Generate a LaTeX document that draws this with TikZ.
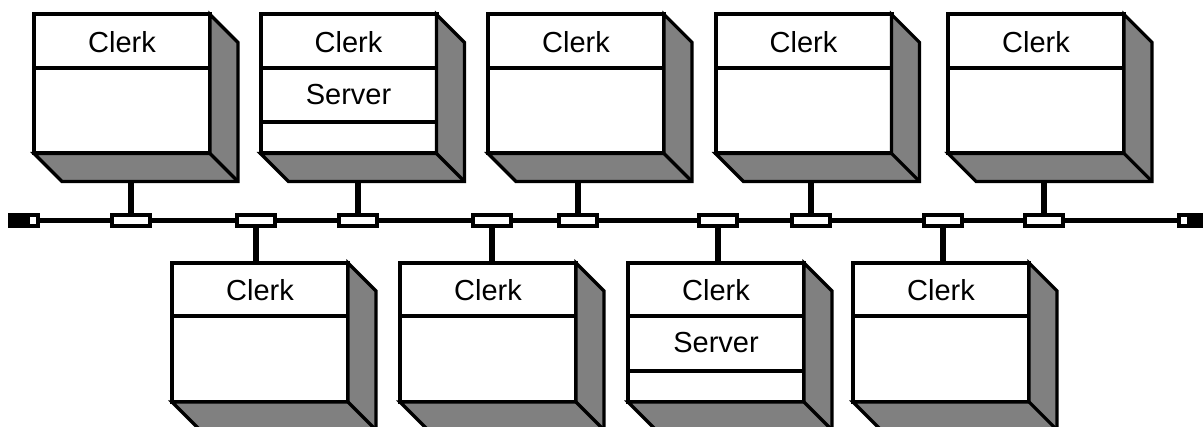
\documentclass[tikz,border=0pt]{standalone}
\usepackage{fontspec}
\setmainfont{Liberation Sans}
\begin{document}
\begin{tikzpicture}[x=0.75pt,y=-0.75pt,
    front/.style={draw,fill=white,line width=3pt,minimum width=132pt,minimum height=104.25pt,inner sep=0pt,outer sep=0pt},
    side/.style={draw,fill=gray,line width=2.4pt,line join=miter},
    divider/.style={line width=3pt},
    lbl/.style={font=\fontsize{21.75}{26}\selectfont,inner sep=0pt},
    tap/.style={draw,fill=white,line width=3pt,minimum width=28.5pt,minimum height=8.25pt,inner sep=0pt,outer sep=0pt},
    term/.style={tap,minimum width=7.5pt},
    termend/.style={tap,fill=black,minimum width=11.25pt},
    bus/.style={line width=4.25pt},
    wire/.style={line width=4.25pt}]
  \useasboundingbox (0,0) rectangle (1203,427);
  % terminators and bus
  \node[termend] (lend) at (17,220.5) {};
  \node[term] (lterm) at (32.5,220.5) {};
  \node[termend] (rend) at (1198,220.5) {};
  \node[term] (rterm) at (1183.5,220.5) {};
  \draw[bus] (lterm) -- (rterm);
  % upper row
  \foreach \i/\bx/\tx/\srv in {1/122/131/0, 2/348.5/358/1, 3/576/578/0, 4/803.5/811/0, 5/1036/1044/0}{
    \node[front] (up\i) at (\bx,84) {};
    \draw[side] (up\i.north east) -- ++(28,28) -- ++(0,139) -- ++(-176,0) -- (up\i.south west) -- (up\i.south east) -- cycle;
    \draw[side] (up\i.south east) -- ++(28,28);
    \coordinate (upfoot\i) at ([yshift=-21pt]up\i.south);
    \draw[divider] ([yshift=-40pt]up\i.north west) -- ([yshift=-40pt]up\i.north east);
    \node[lbl] (upname\i) at ([yshift=-20.6pt]up\i.north) {Clerk};
    \ifnum\srv=1
      \node[lbl] (uprole\i) at ([yshift=-60pt]up\i.north) {Server};
      \draw[divider] ([yshift=-81pt]up\i.north west) -- ([yshift=-81pt]up\i.north east);
    \fi
    \node[tap] (uptap\i) at (\tx,220.5) {};
    \draw[wire] (uptap\i.north) -- (uptap\i.north |- upfoot\i);
  }
  % lower row
  \foreach \i/\bx/\tx/\srv in {1/260/256/0, 2/488/492/0, 3/716/718/1, 4/941/943/0}{
    \node[front] (low\i) at (\bx,332.5) {};
    \draw[side] (low\i.north east) -- ++(28,28) -- ++(0,139) -- ++(-176,0) -- (low\i.south west) -- (low\i.south east) -- cycle;
    \draw[side] (low\i.south east) -- ++(28,28);
    \draw[divider] ([yshift=-40pt]low\i.north west) -- ([yshift=-40pt]low\i.north east);
    \node[lbl] (lowname\i) at ([yshift=-20.6pt]low\i.north) {Clerk};
    \ifnum\srv=1
      \node[lbl] (lowrole\i) at ([yshift=-60pt]low\i.north) {Server};
      \draw[divider] ([yshift=-81pt]low\i.north west) -- ([yshift=-81pt]low\i.north east);
    \fi
    \node[tap] (lowtap\i) at (\tx,220.5) {};
    \draw[wire] (lowtap\i.south) -- (lowtap\i.south |- low\i.north);
  }
\end{tikzpicture}
\end{document}
